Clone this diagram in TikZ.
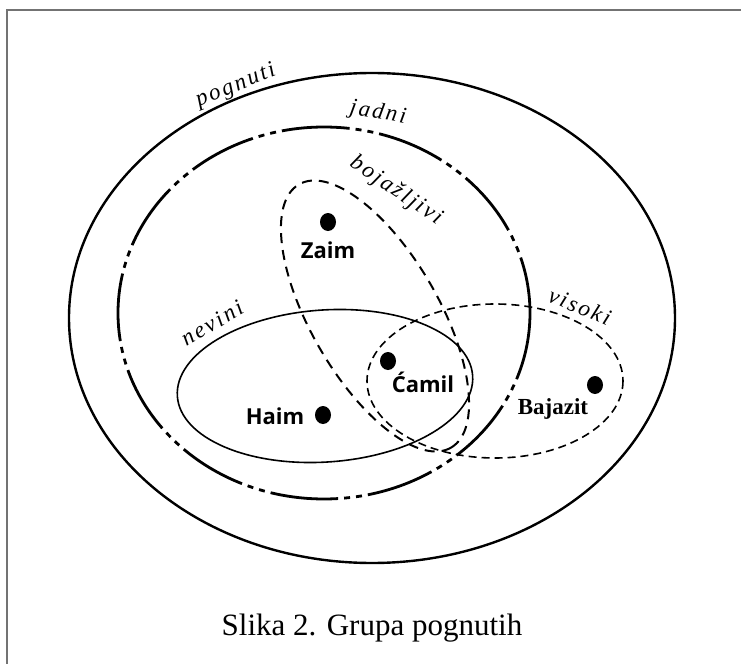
\documentclass[tikz,border=0pt]{standalone}
\usepackage{fontspec}
\setmainfont{Liberation Serif}
\newfontfamily\namefont{Open Sans}
\newfontfamily\setfont[LetterSpace=10]{Liberation Serif}
\usetikzlibrary{shapes.geometric}

\begin{document}
\begin{tikzpicture}[x=0.5pt, y=-0.5pt,
    persondot/.style={ellipse, fill=black, inner sep=0pt, minimum width=8pt, minimum height=9pt},
    person/.style={font=\namefont\bfseries\fontsize{11}{13}\selectfont, inner sep=0pt},
    setlabel/.style={font=\setfont\itshape\fontsize{11.5}{13}\selectfont, inner sep=0pt}]
    \useasboundingbox (0,0) rectangle (741,664);
    \draw [black!55, line width=1.4pt] (7,664) -- (7,10) -- (741,10);

    % skupovi
    \draw [line width=1.2pt] (372,318) ellipse [x radius=303, y radius=245];
    \draw [line width=1.4pt, dash pattern=on 34pt off 3pt on 3pt off 3pt on 3pt off 3pt]
        (324,313) ellipse [x radius=206, y radius=186];
    \draw [line width=1pt, dash pattern=on 5pt off 3.5pt, rotate around={-60:(375,316)}]
        (375,316) ellipse [x radius=152, y radius=64];
    \draw [line width=0.8pt, rotate around={4:(325,386)}]
        (325,386) ellipse [x radius=148, y radius=76];
    \draw [line width=0.8pt, dash pattern=on 4pt off 2.5pt]
        (495,381) ellipse [x radius=128, y radius=77];

    \node [setlabel, rotate=22] (pognuti) at (236,86) {pognuti};
    \node [setlabel, rotate=-10] (jadni) at (378,113) {jadni};
    \node [setlabel, rotate=-34] (bojazljivi) at (396,191) {bojažljivi};
    \node [setlabel, rotate=30] (nevini) at (212,323) {nevini};
    \node [setlabel, rotate=-22] (visoki) at (580,306) {visoki};

    % osobe
    \node [persondot] (zaimdot) at (328,222) {};
    \node [person] (zaim) at (328,250) {Zaim};
    \node [persondot] (haimdot) at (323,415) {};
    \node [person] (haim) at (275,416) {Haim};
    \node [persondot] (camildot) at (388,361) {};
    \node [person] (camil) at (423,382) {Ćamil};
    \node [persondot] (bajazitdot) at (595,385) {};
    \node [font=\bfseries\fontsize{11.5}{13}\selectfont, inner sep=0pt]
        (bajazit) at (553,409) {Bajazit};

    \node [font=\fontsize{15.5}{18}\selectfont, anchor=base] (caption) at (372,635)
        {Slika 2. Grupa pognutih};
\end{tikzpicture}
\end{document}
